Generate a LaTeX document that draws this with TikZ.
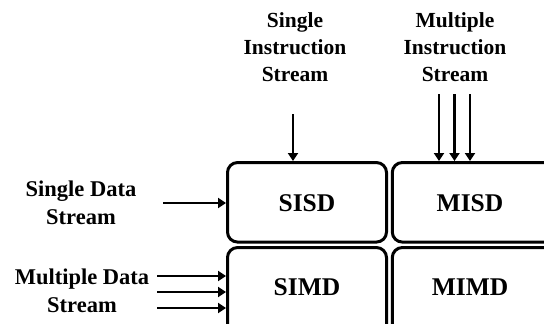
\documentclass[tikz,border=0pt]{standalone}
\usepackage{fontspec}
\setmainfont{Liberation Serif}
\usetikzlibrary{arrows.meta}
\begin{document}
\begin{tikzpicture}[x=1pt,y=-1pt,
  cell/.style={draw, line width=3pt, rounded corners=10pt, inner sep=0pt},
  celltext/.style={font=\fontsize{25.5}{30}\selectfont\bfseries, inner sep=0pt},
  toplabel/.style={align=center, font=\fontsize{21.5}{27}\selectfont\bfseries, inner sep=0pt},
  sidelabel/.style={align=center, font=\fontsize{22.5}{28}\selectfont\bfseries, inner sep=0pt},
  arr/.style={line width=2.8pt, -{Triangle[length=8pt,width=10pt]}}]
\useasboundingbox (0,0) rectangle (544,324);
\clip (0,0) rectangle (544,324);
% boxes
\node[cell, minimum width=159pt, minimum height=79.5pt] (sisd) at (307,202.3) {};
\node[cell, minimum width=178pt, minimum height=79.5pt] (misd) at (481.3,202.3) {};
\node[cell, minimum width=159pt, minimum height=97.5pt] (simd) at (307,296.3) {};
\node[cell, minimum width=178pt, minimum height=97.5pt] (mimd) at (481.3,296.3) {};
\node[celltext] (tsisd) at (307,203) {SISD};
\node[celltext] (tmisd) at (470,203) {MISD};
\node[celltext] (tsimd) at (307,287) {SIMD};
\node[celltext] (tmimd) at (470,287) {MIMD};
% labels
\node[toplabel] (si) at (295,47) {Single\\Instruction\\Stream};
\node[toplabel] (mi) at (455,47) {Multiple\\Instruction\\Stream};
\node[sidelabel] (sd) at (81,203) {Single Data\\Stream};
\node[sidelabel] (md) at (82,291) {Multiple Data\\Stream};
% arrow starts
\coordinate (a1) at (293,114);
\coordinate (b1) at (439,94);
\coordinate (b2) at (454.5,94);
\coordinate (b3) at (470,94);
\coordinate (c1) at (163,203);
\coordinate (d1) at (157,276);
\coordinate (d2) at (157,292);
\coordinate (d3) at (157,308);
% arrows
\draw[arr] (a1) -- (a1 |- sisd.north);
\draw[arr] (b1) -- (b1 |- misd.north);
\draw[arr] (b2) -- (b2 |- misd.north);
\draw[arr] (b3) -- (b3 |- misd.north);
\draw[arr] (c1) -- (c1 -| sisd.west);
\draw[arr] (d1) -- (d1 -| simd.west);
\draw[arr] (d2) -- (d2 -| simd.west);
\draw[arr] (d3) -- (d3 -| simd.west);
\end{tikzpicture}
\end{document}
